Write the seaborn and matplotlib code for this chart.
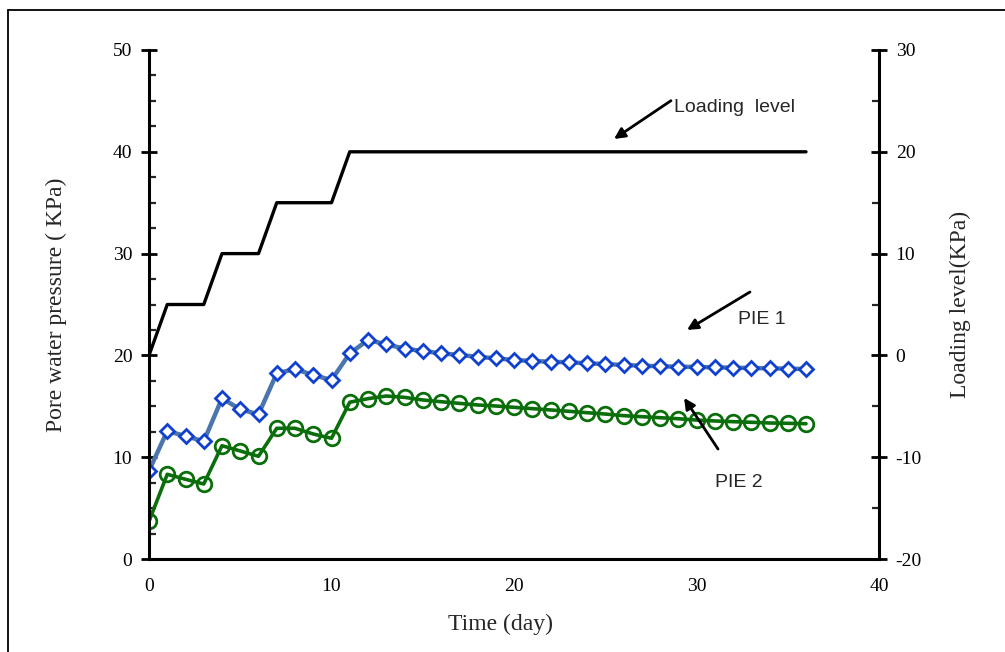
import numpy as np
import pandas as pd
import matplotlib
matplotlib.use("Agg")
import matplotlib.pyplot as plt
import seaborn as sns
from matplotlib.lines import Line2D
from matplotlib.ticker import MultipleLocator

# ---- data ----
days = list(range(0, 37))
pie1 = [8.67, 12.57, 12.08, 11.56, 15.78, 14.70, 14.21, 18.24, 18.66, 18.07, 17.58,
        20.2, 21.51, 21.09, 20.66, 20.43, 20.20, 20.04, 19.87, 19.71, 19.55, 19.45,
        19.38, 19.32, 19.22, 19.15, 19.06, 18.99, 18.93, 18.89, 18.86, 18.83, 18.79,
        18.76, 18.73, 18.70, 18.66]
pie2 = [3.70, 8.32, 7.83, 7.37, 11.13, 10.61, 10.09, 12.84, 12.84, 12.28, 11.86,
        15.4, 15.75, 16.01, 15.88, 15.62, 15.45, 15.29, 15.13, 15.03, 14.90, 14.77,
        14.64, 14.51, 14.37, 14.24, 14.08, 13.98, 13.88, 13.78, 13.65, 13.56, 13.49,
        13.43, 13.36, 13.33, 13.29]
loading = [0, 5, 5, 5, 10, 10, 10, 15, 15, 15, 15] + [20] * 26

left_ticks = [0, 10, 20, 30, 40, 50]
right_ticks = [-20, -10, 0, 10, 20, 30]
x_ticks = [0, 10, 20, 30, 40]

df = pd.DataFrame({"day": days, "PIE 1": pie1, "PIE 2": pie2, "load": loading})

sns.set_style("white")
plt.rcParams["font.family"] = ["Liberation Serif", "DejaVu Serif"]
plt.rcParams["axes.unicode_minus"] = False

fig = plt.figure(figsize=(10.05, 6.52), dpi=100)
ax = fig.add_axes([149 / 1005, 93 / 652, 730 / 1005, 509 / 652])
ax2 = ax.twinx()

sns.lineplot(data=df, x="day", y="PIE 1", ax=ax, color="#4a76ad", lw=3.2,
             marker="D", ms=7.5, mfc="white", mec="#1040d0", mew=2.0)
sns.lineplot(data=df, x="day", y="PIE 2", ax=ax, color="#0a6e0a", lw=2.6,
             marker="o", ms=10.5, mfc="none", mec="#0a6e0a", mew=2.0)
sns.lineplot(data=df, x="day", y="load", ax=ax2, color="black", lw=2.4)

ax.set_xlim(0, 40)
ax.set_ylim(0, 50)
ax2.set_ylim(-20, 30)
ax.set_xticks(x_ticks)
ax.set_yticks(left_ticks)
ax2.set_yticks(right_ticks)
ax.xaxis.set_minor_locator(MultipleLocator(5))
ax.yaxis.set_minor_locator(MultipleLocator(2.5))
ax2.yaxis.set_minor_locator(MultipleLocator(5))

for a in (ax, ax2):
    for s in a.spines.values():
        s.set_visible(False)
    a.grid(False)
ax.spines["left"].set_visible(True)
ax.spines["bottom"].set_visible(True)
ax2.spines["right"].set_visible(True)
for s in (ax.spines["left"], ax.spines["bottom"], ax2.spines["right"]):
    s.set_linewidth(2.2)
    s.set_color("black")

ax.tick_params(axis="both", which="major", direction="inout", length=12, width=2,
               labelsize=14, colors="black", pad=6)
ax.tick_params(axis="both", which="minor", direction="in", length=5, width=1.6)
ax.tick_params(axis="x", which="major", pad=8)
ax2.tick_params(axis="y", which="major", direction="inout", length=12, width=2,
                labelsize=14, colors="black", pad=6)
ax2.tick_params(axis="y", which="minor", direction="in", length=5, width=1.6)

ax.set_xlabel("Time (day)", fontsize=17)
ax.xaxis.set_label_coords(0.481, -0.108)
ax.set_ylabel("Pore water pressure ( KPa)", fontsize=17)
ax.yaxis.set_label_coords(-0.112, 0.5)
ax2.set_ylabel("Loading level(KPa)", fontsize=17, labelpad=20)

arrow = dict(arrowstyle="-|>", color="black", lw=2, mutation_scale=16, shrinkA=0, shrinkB=0)
sans = ["Liberation Sans", "DejaVu Sans"]
ax.annotate("", xy=(25.48, 41.26), xytext=(28.6, 45.02), arrowprops=arrow)
ax.text(28.77, 44.4, "Loading  level", family=sans, fontsize=14, va="center", ha="left")
ax.annotate("", xy=(29.48, 22.5), xytext=(32.93, 26.23), arrowprops=arrow)
ax.text(32.27, 23.48, "PIE 1", family=sans, fontsize=14, va="center", ha="left")
ax.annotate("", xy=(29.32, 15.82), xytext=(31.18, 10.8), arrowprops=arrow)
ax.text(31.01, 7.47, "PIE 2", family=sans, fontsize=14, va="center", ha="left")

# outer frame (left and top edges visible)
fig.add_artist(Line2D([8 / 1005, 8 / 1005], [0, 1 - 10 / 652], transform=fig.transFigure,
                      color="black", lw=1.3))
fig.add_artist(Line2D([8 / 1005, 1], [1 - 10 / 652, 1 - 10 / 652], transform=fig.transFigure,
                      color="black", lw=1.3))

fig.savefig("out.png", dpi=100)
